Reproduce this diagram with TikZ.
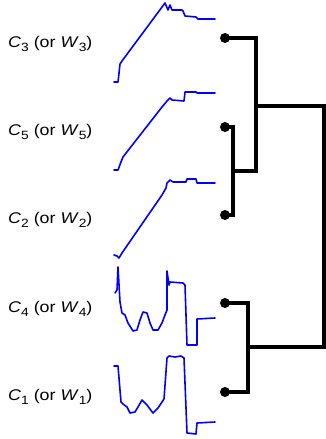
\documentclass[tikz,border=0pt]{standalone}
\usepackage{fontspec}
\setmainfont{Liberation Sans}
\newcommand{\subfnt}{\fontsize{12}{12}\selectfont}
\newcommand{\clbl}[1]{\scalebox{1.15}[1]{\textit{C}\raisebox{-4.5pt}{\subfnt #1} (or \textit{W}\raisebox{-4.5pt}{\subfnt #1})}}
\begin{document}
\begin{tikzpicture}[x=1pt,y=-1pt,
  dot/.style={circle,fill=black,inner sep=0pt,minimum size=10pt},
  tree/.style={line width=4.8pt,black,line join=miter},
  sig/.style={blue,line width=1.6pt,line join=round,line cap=round},
  lbl/.style={anchor=base west,inner sep=0pt,font=\fontsize{15.5}{18}\selectfont}]
\useasboundingbox (0,0) rectangle (326,439);
% labels
\node[lbl] (l3) at (8,47) {\clbl{3}};
\node[lbl] (l5) at (8,135) {\clbl{5}};
\node[lbl] (l2) at (8,223) {\clbl{2}};
\node[lbl] (l4) at (8,312) {\clbl{4}};
\node[lbl] (l1) at (8,400) {\clbl{1}};
% signals
\draw[sig] (114,82) -- (118,82) -- (120,64) -- (122,61) -- (165,3) -- (168,10) -- (170,5) -- (172,10) -- (182,10) -- (183,11) -- (185,16) -- (196,17) -- (198,19) -- (215,19);
\draw[sig] (114,170) -- (118,170) -- (121,162) -- (123,157) -- (162,107) -- (167,101) -- (170,98) -- (172,100) -- (184,101) -- (185,92) -- (196,92) -- (197,93) -- (215,93);
\draw[sig] (114,255) -- (117,256) -- (119,258) -- (122,253) -- (162,195) -- (166,188) -- (167,183) -- (170,180) -- (173,182) -- (186,182) -- (187,179) -- (196,179) -- (197,183) -- (215,183);
\draw[sig] (115,293) -- (117,290) -- (118,267) -- (120,302) -- (122,313) -- (125,315) -- (128,323) -- (133,331) -- (137,330) -- (140,320) -- (143,312) -- (147,313) -- (150,323) -- (153,330) -- (158,330) -- (162,323) -- (165,315) -- (167,310) -- (167,271) -- (169,285) -- (170,282) -- (183,283) -- (185,285) -- (187,345) -- (197,345) -- (197,319) -- (215,318);
\draw[sig] (114,366) -- (118,366) -- (121,402) -- (123,404) -- (127,407) -- (130,413) -- (135,412) -- (138,407) -- (142,400) -- (147,405) -- (153,413) -- (158,408) -- (162,402) -- (164,399) -- (167,358) -- (169,356) -- (175,357) -- (181,356) -- (184,358) -- (187,433) -- (196,434) -- (197,423) -- (215,422);
% dendrogram
\node[dot] (d3) at (225,38) {};
\node[dot] (d5) at (225,127) {};
\node[dot] (d2) at (225,215) {};
\node[dot] (d4) at (225,303) {};
\node[dot] (d1) at (225,392) {};
\coordinate (v52) at (233,171);
\coordinate (v352) at (256,106);
\coordinate (v41) at (248,347);
\coordinate (vroot) at (324,226);
\draw[tree] (d5.center) -- (d5.center -| v52) -- (d2.center -| v52) -- (d2.center);
\draw[tree] (d3.center) -- (d3.center -| v352) -- (v52 -| v352) -- (v52);
\draw[tree] (d4.center) -- (d4.center -| v41) -- (d1.center -| v41) -- (d1.center);
\draw[tree] (v352) -- (v352 -| vroot) -- (v41 -| vroot) -- (v41);
\end{tikzpicture}
\end{document}
